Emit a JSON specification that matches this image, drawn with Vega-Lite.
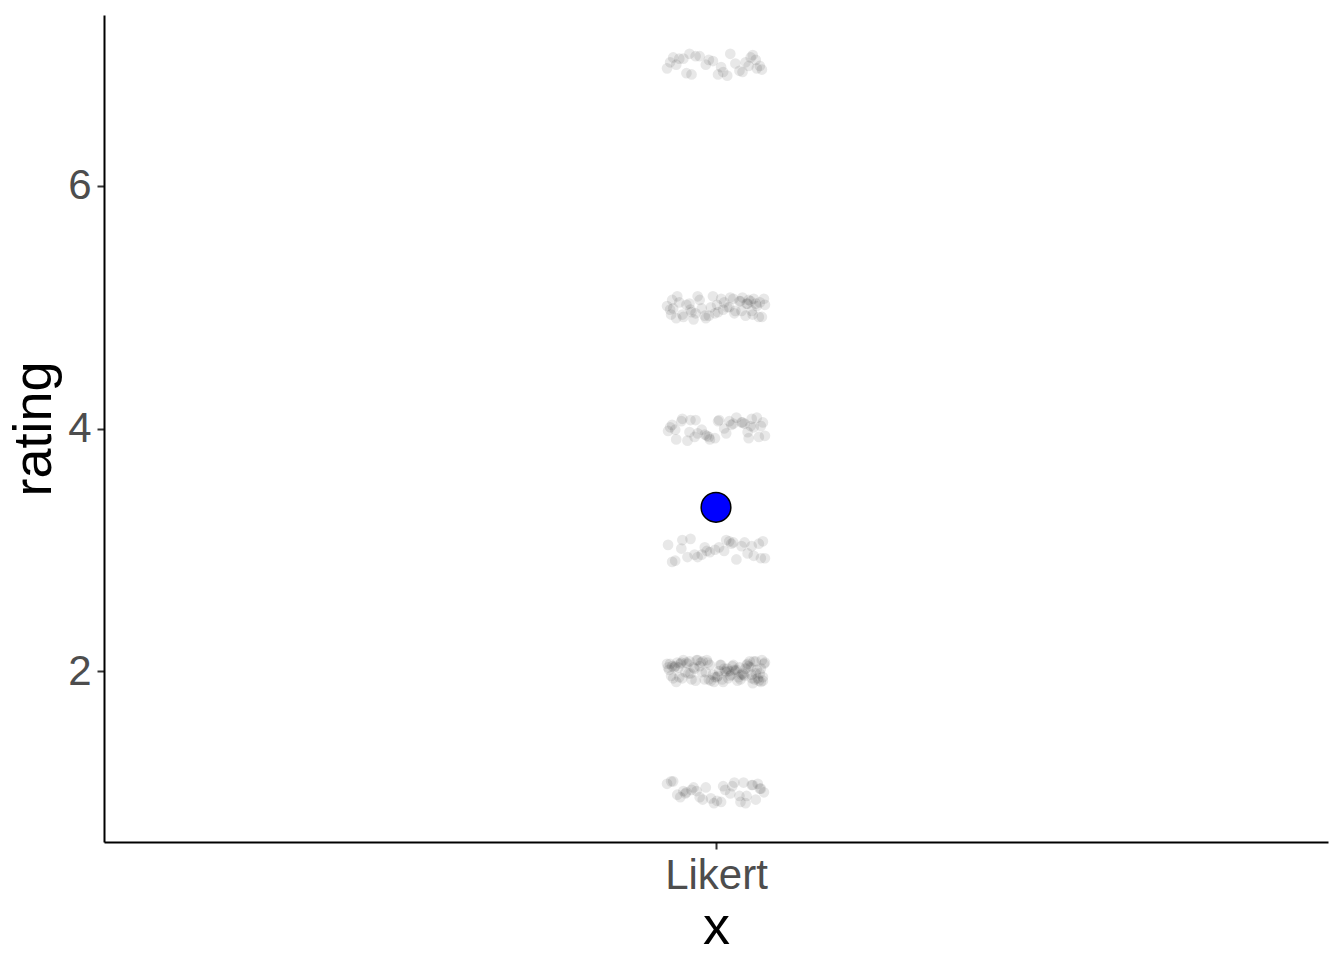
{
"$schema": "https://vega.github.io/schema/vega-lite/v6.json",
"width": 1224, "height": 827,
"autosize": {"type": "none"},
"padding": {"left": 104, "top": 15, "right": 16, "bottom": 118},
"background": "white",
"config": {"view": {"stroke": null}, "axis": {"grid": false, "domainColor": "black", "domainWidth": 2, "tickColor": "#333333", "tickWidth": 2, "tickSize": 7, "labelColor": "#4d4d4d", "labelFont": "Liberation Sans", "labelFontSize": 42, "labelPadding": 6, "titleFont": "Liberation Sans", "titleFontSize": 54, "titleColor": "black", "titleFontWeight": "normal"}},
"datasets": {
"pts": [
{"x":0.959,"rating":2.03},{"x":1.012,"rating":1.94},{"x":1.033,"rating":2.08},{"x":0.973,"rating":1.98},{"x":1.046,"rating":1.95},{"x":0.992,"rating":2.07},{"x":1.021,"rating":1.92},{"x":0.954,"rating":2.01},{"x":1.004,"rating":2.05},{"x":1.038,"rating":1.93},
{"x":0.981,"rating":2.09},{"x":1.027,"rating":1.97},{"x":0.965,"rating":2.06},{"x":1.044,"rating":2.02},{"x":0.998,"rating":1.91},{"x":1.016,"rating":2.04},{"x":0.970,"rating":1.99},{"x":1.041,"rating":1.94},{"x":0.987,"rating":2.08},{"x":1.009,"rating":2.00},
{"x":1.030,"rating":2.05},{"x":0.956,"rating":1.96},{"x":1.024,"rating":1.93},{"x":0.978,"rating":2.03},{"x":1.047,"rating":2.06},{"x":0.995,"rating":1.92},{"x":1.035,"rating":1.97},{"x":0.962,"rating":2.07},{"x":1.018,"rating":2.01},{"x":1.001,"rating":1.95},
{"x":0.968,"rating":2.09},{"x":1.043,"rating":1.98},{"x":0.984,"rating":2.04},{"x":1.007,"rating":1.91},{"x":1.029,"rating":2.02},{"x":0.952,"rating":2.06},{"x":1.014,"rating":1.96},{"x":0.976,"rating":1.93},{"x":1.039,"rating":2.08},{"x":0.990,"rating":1.99},
{"x":1.023,"rating":2.03},{"x":0.958,"rating":1.94},{"x":1.005,"rating":2.05},{"x":1.036,"rating":1.90},{"x":0.971,"rating":2.07},{"x":1.019,"rating":2.00},{"x":0.997,"rating":1.97},{"x":1.045,"rating":2.09},{"x":0.964,"rating":1.95},{"x":1.011,"rating":2.02},
{"x":0.980,"rating":1.92},{"x":1.032,"rating":2.04},{"x":0.955,"rating":2.06},{"x":1.026,"rating":1.98},{"x":0.993,"rating":1.93},{"x":1.040,"rating":2.01},{"x":0.974,"rating":2.08},{"x":1.002,"rating":1.96},{"x":1.034,"rating":2.03},{"x":0.961,"rating":1.91},
{"x":1.017,"rating":2.05},{"x":0.986,"rating":1.99},{"x":1.048,"rating":2.07},{"x":0.967,"rating":1.94},{"x":1.008,"rating":2.02},{"x":1.025,"rating":1.97},{"x":0.982,"rating":2.09},{"x":1.042,"rating":1.92},{"x":0.957,"rating":2.04},{"x":1.013,"rating":2.00},
{"x":0.999,"rating":1.95},{"x":1.031,"rating":2.06},{"x":0.975,"rating":1.98},{"x":1.037,"rating":2.08},{"x":0.989,"rating":1.93},{"x":1.020,"rating":2.01},{"x":0.953,"rating":2.03},{"x":1.028,"rating":1.96},{"x":0.994,"rating":2.05},{"x":1.044,"rating":1.91},
{"x":0.966,"rating":2.07},{"x":1.010,"rating":1.99},{"x":0.979,"rating":2.02},{"x":1.035,"rating":1.94},{"x":0.960,"rating":2.04},{"x":1.015,"rating":1.97},{"x":0.991,"rating":2.09},{"x":1.046,"rating":1.92},{"x":0.972,"rating":2.06},{"x":1.003,"rating":2.00},
{"x":1.022,"rating":1.95},{"x":0.963,"rating":2.03},{"x":1.039,"rating":1.98},{"x":0.985,"rating":2.07},{"x":1.006,"rating":1.93},
{"x":1.030,"rating":5.03},{"x":0.956,"rating":4.94},{"x":1.024,"rating":5.05},{"x":0.978,"rating":4.90},{"x":1.047,"rating":5.07},{"x":0.995,"rating":5.00},{"x":1.035,"rating":4.97},{"x":0.962,"rating":5.09},{"x":1.018,"rating":4.95},{"x":1.001,"rating":5.02},
{"x":0.968,"rating":4.92},{"x":1.043,"rating":5.04},{"x":0.984,"rating":5.06},{"x":1.007,"rating":4.98},{"x":1.029,"rating":4.93},{"x":0.952,"rating":5.01},{"x":1.014,"rating":5.08},{"x":0.976,"rating":4.96},{"x":1.039,"rating":5.03},{"x":0.990,"rating":4.91},
{"x":1.023,"rating":5.05},{"x":0.958,"rating":4.99},{"x":1.005,"rating":5.07},{"x":1.036,"rating":4.94},{"x":0.971,"rating":5.02},{"x":1.019,"rating":4.97},{"x":0.997,"rating":5.09},{"x":1.045,"rating":4.92},{"x":0.964,"rating":5.04},{"x":1.011,"rating":5.00},
{"x":0.980,"rating":4.95},{"x":1.032,"rating":5.06},{"x":0.955,"rating":4.98},{"x":1.026,"rating":5.08},{"x":0.993,"rating":4.93},{"x":1.040,"rating":5.01},{"x":0.974,"rating":5.03},{"x":1.002,"rating":4.96},{"x":1.034,"rating":5.05},{"x":0.961,"rating":4.91},
{"x":1.017,"rating":5.07},{"x":0.986,"rating":4.99},{"x":1.048,"rating":5.02},{"x":0.967,"rating":4.94},{"x":1.008,"rating":5.04},{"x":1.025,"rating":4.97},{"x":0.982,"rating":5.09},{"x":1.042,"rating":4.92},{"x":0.957,"rating":5.06},{"x":1.013,"rating":5.00},
{"x":0.999,"rating":4.95},{"x":1.031,"rating":5.03},{"x":0.975,"rating":4.98},{"x":1.037,"rating":5.07},{"x":0.989,"rating":4.93},
{"x":0.980,"rating":4.07},{"x":1.032,"rating":3.92},{"x":0.955,"rating":4.01},{"x":1.026,"rating":4.05},{"x":0.993,"rating":3.93},{"x":1.040,"rating":4.09},{"x":0.974,"rating":3.97},{"x":1.002,"rating":4.06},{"x":1.034,"rating":4.02},{"x":0.961,"rating":3.91},
{"x":1.017,"rating":4.04},{"x":0.986,"rating":3.99},{"x":1.048,"rating":3.94},{"x":0.967,"rating":4.08},{"x":1.008,"rating":4.00},{"x":1.025,"rating":4.05},{"x":0.982,"rating":3.96},{"x":1.042,"rating":3.93},{"x":0.957,"rating":4.03},{"x":1.013,"rating":4.06},
{"x":0.999,"rating":3.92},{"x":1.031,"rating":3.97},{"x":0.975,"rating":4.07},{"x":1.037,"rating":4.01},{"x":0.989,"rating":3.95},{"x":1.020,"rating":4.09},{"x":0.953,"rating":3.98},{"x":1.028,"rating":4.04},{"x":0.994,"rating":3.91},{"x":1.044,"rating":4.02},
{"x":0.966,"rating":4.06},{"x":1.010,"rating":3.96},{"x":0.979,"rating":3.93},{"x":1.035,"rating":4.08},{"x":0.960,"rating":3.99},{"x":1.015,"rating":4.03},{"x":0.991,"rating":3.94},{"x":1.046,"rating":4.05},{"x":0.972,"rating":3.90},{"x":1.003,"rating":4.07},
{"x":0.968,"rating":7.05},{"x":1.043,"rating":6.99},{"x":0.984,"rating":7.07},{"x":1.007,"rating":6.94},{"x":1.029,"rating":7.02},{"x":0.952,"rating":6.97},{"x":1.014,"rating":7.09},{"x":0.976,"rating":6.92},{"x":1.039,"rating":7.04},{"x":0.990,"rating":7.00},
{"x":1.023,"rating":6.95},{"x":0.958,"rating":7.06},{"x":1.005,"rating":6.98},{"x":1.036,"rating":7.08},{"x":0.971,"rating":6.93},{"x":1.019,"rating":7.01},{"x":0.997,"rating":7.03},{"x":1.045,"rating":6.96},{"x":0.964,"rating":7.05},{"x":1.011,"rating":6.91},
{"x":0.980,"rating":7.07},{"x":1.032,"rating":6.99},{"x":0.955,"rating":7.02},{"x":1.026,"rating":6.94},{"x":0.993,"rating":7.04},{"x":1.040,"rating":6.97},{"x":0.974,"rating":7.09},{"x":1.002,"rating":6.92},{"x":1.034,"rating":7.06},{"x":0.961,"rating":7.00},
{"x":1.017,"rating":3.06},{"x":0.986,"rating":2.96},{"x":1.048,"rating":2.93},{"x":0.967,"rating":3.08},{"x":1.008,"rating":2.99},{"x":1.025,"rating":3.03},{"x":0.982,"rating":2.94},{"x":1.042,"rating":3.05},{"x":0.957,"rating":2.90},{"x":1.013,"rating":3.07},
{"x":0.999,"rating":3.00},{"x":1.031,"rating":2.97},{"x":0.975,"rating":3.09},{"x":1.037,"rating":2.95},{"x":0.989,"rating":3.02},{"x":1.020,"rating":2.92},{"x":0.953,"rating":3.04},{"x":1.028,"rating":3.06},{"x":0.994,"rating":2.98},{"x":1.044,"rating":2.93},
{"x":0.966,"rating":3.01},{"x":1.010,"rating":3.08},{"x":0.979,"rating":2.96},{"x":1.035,"rating":3.03},{"x":0.960,"rating":2.91},{"x":1.015,"rating":3.05},{"x":0.991,"rating":2.99},{"x":1.046,"rating":3.07},{"x":0.972,"rating":2.94},{"x":1.003,"rating":3.02},
{"x":0.981,"rating":1.01},{"x":1.027,"rating":1.08},{"x":0.965,"rating":0.96},{"x":1.044,"rating":1.03},{"x":0.998,"rating":0.91},{"x":1.016,"rating":1.05},{"x":0.970,"rating":0.99},{"x":1.041,"rating":1.07},{"x":0.987,"rating":0.94},{"x":1.009,"rating":1.02},
{"x":1.030,"rating":0.97},{"x":0.956,"rating":1.09},{"x":1.024,"rating":0.92},{"x":0.978,"rating":1.04},{"x":1.047,"rating":1.00},{"x":0.995,"rating":0.95},{"x":1.035,"rating":1.06},{"x":0.962,"rating":0.98},{"x":1.018,"rating":1.08},{"x":1.001,"rating":0.93},
{"x":0.968,"rating":1.01},{"x":1.043,"rating":1.03},{"x":0.984,"rating":0.96},{"x":1.007,"rating":1.05},{"x":1.029,"rating":0.91},{"x":0.952,"rating":1.07},{"x":1.014,"rating":0.99},{"x":0.976,"rating":1.02},{"x":1.039,"rating":0.94},{"x":0.990,"rating":1.04},
{"x":1.023,"rating":0.97},{"x":0.958,"rating":1.09},{"x":1.005,"rating":0.92},{"x":1.036,"rating":1.06},{"x":0.971,"rating":1.00}
],
"mean": [{"x": 1, "rating": 3.35}]
},
"layer": [
{"data": {"name": "pts"}, "mark": {"type": "circle", "size": 115, "color": "black", "opacity": 0.09},
 "encoding": {
  "x": {"field": "x", "type": "quantitative", "scale": {"domain": [0.4, 1.6], "nice": false, "zero": false}, "axis": {"values": [1], "labelExpr": "'Likert'", "title": "x", "titlePadding": 4}},
  "y": {"field": "rating", "type": "quantitative", "scale": {"domain": [0.59, 7.41], "nice": false, "zero": false}, "axis": {"values": [2, 4, 6], "format": "d", "title": "rating", "titlePadding": 6}}
 }},
{"data": {"name": "mean"}, "mark": {"type": "point", "shape": "circle", "filled": true, "size": 880, "fill": "blue", "stroke": "black", "strokeWidth": 1.5, "opacity": 1},
 "encoding": {
  "x": {"field": "x", "type": "quantitative"},
  "y": {"field": "rating", "type": "quantitative"}
 }}
]
}
